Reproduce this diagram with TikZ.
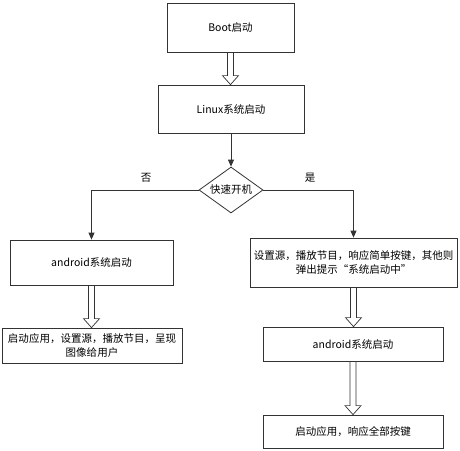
\documentclass[tikz,border=0pt]{standalone}
\usepackage{fontspec}
\setmainfont{Noto Sans CJK SC}
\usetikzlibrary{shapes.geometric,arrows.meta,calc}
\begin{document}
\begin{tikzpicture}[x=1pt, y=-1pt, every node/.style={font=\fontsize{10.5}{14}\selectfont},
  st/.style={draw=black!80,line width=0.8pt,inner sep=2pt,align=center},
  ar/.style={->,line width=0.8pt,black!80,>={Triangle[length=7pt,width=6pt]}},
  hollow/.style={draw=black!80,line width=0.7pt,fill=white,
    to path={let \p1=(\tikztostart.south), \p2=(\tikztotarget.north) in
      (\x1-3pt,\y1) -- (\x1-3pt,\y2+9pt) -- (\x1-8pt,\y2+9pt) -- (\x1,\y2)
      -- (\x1+8pt,\y2+9pt) -- (\x1+3pt,\y2+9pt) -- (\x1+3pt,\y1) -- cycle}}]
\useasboundingbox[fill=white] (0,0) rectangle (460,450);
\node[st,minimum width=127pt,minimum height=49pt] (boot) at (230.5,27.5) {Boot启动};
\node[st,minimum width=146pt,minimum height=48pt] (linux) at (231,109) {Linux系统启动};
\node[st,diamond,aspect=1.4,inner sep=0pt,minimum width=64pt,minimum height=46pt] (fast) at (231,190) {快速开机};
\node[st,minimum width=163pt,minimum height=45pt] (andL) at (91.5,262.5) {android系统启动};
\node[st,minimum width=180pt,minimum height=35pt] (appL) at (92,345.5) {启动应用，设置源，播放节目，呈现\\图像给用户};
\node[st,minimum width=207pt,minimum height=49pt] (quick) at (353.5,262.5) {设置源，播放节目，响应简单按键，其他则\\弹出提示“系统启动中”};
\node[st,minimum width=180pt,minimum height=34pt] (andR) at (353,344) {android系统启动};
\node[st,minimum width=180pt,minimum height=33pt] (appR) at (353,431.5) {启动应用，响应全部按键};
\node (no) at (146,178) {否};
\node (yes) at (310,178) {是};
% hollow arrows
\path[hollow] (boot) to (linux);
\path[hollow] (andL) to (appL);
\path[hollow] (quick) to (andR);
\path[hollow] (andR) to (appR);
% decision
\draw[ar] (linux) -- (fast);
\draw[ar] (fast.west) -| (andL.north);
\draw[ar] (fast.east) -| (quick.north);
\end{tikzpicture}
\end{document}
